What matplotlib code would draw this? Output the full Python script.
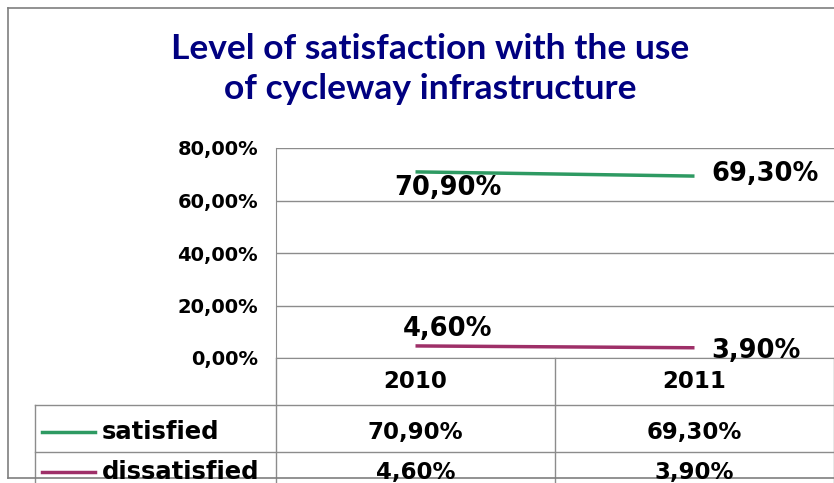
import matplotlib.pyplot as plt
import matplotlib.transforms as mtransforms
from matplotlib.lines import Line2D

# data
years = ['2010', '2011']
series_names = ['satisfied', 'dissatisfied']
satisfied = [0.709, 0.693]
dissatisfied = [0.046, 0.039]
yticks = [0.0, 0.2, 0.4, 0.6, 0.8]

colors = ['#2E9A62', '#9E2F68']
grid_c = '#8C8C8C'
font = 'DejaVu Sans'

def pct(v, d=2):
    return ('{:.%df}%%' % d).format(v * 100).replace('.', ',')

W, H = 834, 483
fig = plt.figure(figsize=(W / 100, H / 100), dpi=100)
ax = fig.add_axes([276 / W, 1 - 358 / H, (834 - 276) / W, (358 - 148) / H])

x = list(range(len(years)))
ax.plot(x, satisfied, color=colors[0], lw=2.5, solid_capstyle='butt')
ax.plot(x, dissatisfied, color=colors[1], lw=2.5, solid_capstyle='butt')

ax.set_xlim(-0.5, 1.5)
ax.set_ylim(0, 0.8)
ax.set_yticks(yticks)
ax.set_yticklabels([pct(v) for v in yticks], fontsize=14, fontweight='bold', family=font)
ax.tick_params(axis='y', length=0, pad=13)
ax.set_xticks([])
ax.grid(axis='y', color=grid_c, lw=1)
for s in ['top', 'right']:
    ax.spines[s].set_visible(False)
ax.spines['left'].set_color(grid_c)
ax.spines['bottom'].set_color(grid_c)

lab = dict(fontsize=18.5, fontweight='bold', family=font,
           textcoords='offset pixels', va='center')
ax.annotate(pct(satisfied[0]), (0, satisfied[0]), xytext=(32, -16), ha='center', **lab)
ax.annotate(pct(satisfied[1]), (1, satisfied[1]), xytext=(17, 2), ha='left', **lab)
ax.annotate(pct(dissatisfied[0]), (0, dissatisfied[0]), xytext=(32, 17), ha='center', **lab)
ax.annotate(pct(dissatisfied[1]), (1, dissatisfied[1]), xytext=(17, -3), ha='left', **lab)

# data table under the axis: x in data units, y in figure pixels from top
tr = mtransforms.blended_transform_factory(ax.transData, fig.transFigure)
def fy(py):
    return 1 - py / H

tkw = dict(transform=tr, color=grid_c, lw=1, clip_on=False)
for xv in [-0.5, 0.5, 1.5]:
    fig.add_artist(Line2D([xv, xv], [fy(358), fy(H)], **tkw))
fkw = dict(transform=fig.transFigure, color=grid_c, lw=1)
for py in [405, 452]:
    fig.add_artist(Line2D([35 / W, 1], [fy(py), fy(py)], **fkw))
fig.add_artist(Line2D([35 / W, 35 / W], [fy(405), fy(H)], **fkw))

cell = dict(fontsize=16.5, fontweight='bold', family=font,
            ha='center', va='center', transform=tr)
for i, yr in enumerate(years):
    fig.text(i, fy(382), yr, **cell)
rows = [satisfied, dissatisfied]
row_y = [432, 472]
for r, vals in enumerate(rows):
    for i, v in enumerate(vals):
        fig.text(i, fy(row_y[r]), pct(v), **cell)
    fig.add_artist(Line2D([42 / W, 95 / W], [fy(row_y[r])] * 2, transform=fig.transFigure,
                          color=colors[r], lw=2.5))
    fig.text(102 / W, fy(row_y[r]), series_names[r], fontsize=17.5, fontweight='bold',
             family=font, ha='left', va='center')

# outer chart border
bkw = dict(transform=fig.transFigure, color='#7F7F7F', lw=1.2)
fig.add_artist(Line2D([8 / W, 8 / W], [fy(8), fy(478)], **bkw))
fig.add_artist(Line2D([8 / W, 1], [fy(8), fy(8)], **bkw))
fig.add_artist(Line2D([8 / W, 1], [fy(478), fy(478)], **bkw))

fig.text(430 / W, fy(69), 'Level of satisfaction with the use\nof cycleway infrastructure',
         ha='center', va='center', fontsize=25.5, fontweight='bold', family='Lato',
         color='#000080', linespacing=1.33)

fig.savefig('out.png', dpi=100)
